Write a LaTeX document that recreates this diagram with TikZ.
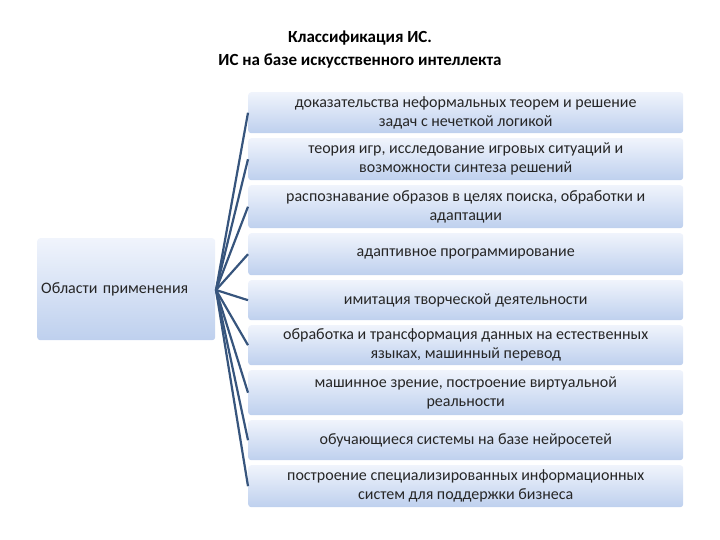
\documentclass[tikz,border=0pt]{standalone}
\usepackage{fontspec}
\setmainfont{Carlito}
\definecolor{btop}{RGB}{240,244,252}
\definecolor{bbot}{RGB}{190,208,238}
\definecolor{lc}{RGB}{55,85,125}
\begin{document}
\begin{tikzpicture}[x=1pt,y=-1pt,
  box/.style={rounded corners=3pt,top color=btop,bottom color=bbot,draw=none,align=center,font=\fontsize{16}{19}\selectfont,text=black!85,inner sep=2pt},
  conn/.style={draw=lc,line width=2.2pt}]
\useasboundingbox (0,0) rectangle (720,540);
\node[font=\bfseries\fontsize{17}{23}\selectfont,align=center] (title) at (360,50) {Классификация ИС.\\ ИС на базе искусственного интеллекта};
\node[box,minimum width=178pt,minimum height=102pt,anchor=north west,text width=170pt,align=left] (L) at (37,238) {Области применения};
\coordinate (h) at (216,290);
\foreach \i/\t/\b/\txt in {
 1/92/133/{доказательства неформальных теорем и решение\\ задач с нечеткой логикой},
 2/138/180/{теория игр, исследование игровых ситуаций и\\ возможности синтеза решений},
 3/185/228/{распознавание образов в целях поиска, обработки и\\ адаптации},
 4/233/275/{адаптивное программирование},
 5/280/320/{имитация творческой деятельности},
 6/325/365/{обработка и трансформация данных на естественных\\ языках, машинный перевод},
 7/370/415/{машинное зрение, построение виртуальной\\ реальности},
 8/420/460/{обучающиеся системы на базе нейросетей},
 9/465/507/{построение специализированных информационных\\ систем для поддержки бизнеса}}{
  \node[box,minimum width=435pt,minimum height=\b pt-\t pt,anchor=north west] (b\i) at (248,\t) {\txt};
  \draw[conn] (h) -- (b\i.west);
}
\end{tikzpicture}
\end{document}
